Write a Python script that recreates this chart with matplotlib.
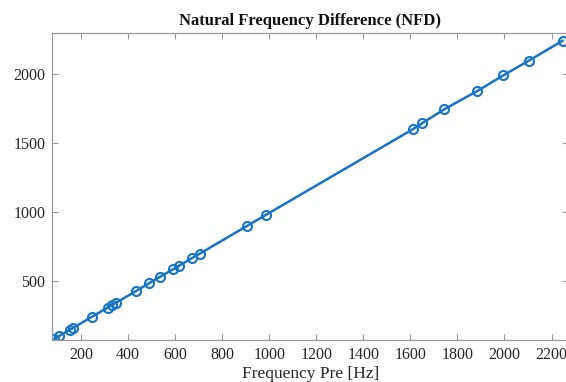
import matplotlib
matplotlib.use("Agg")
import matplotlib.pyplot as plt

freq_pre = [87, 107, 154, 168, 246, 313, 331, 350, 435, 490, 534, 590, 617, 672, 704,
            905, 985, 1611, 1649, 1745, 1885, 1995, 2104, 2247]
freq_post = [82, 101, 148, 161, 240, 306, 325, 343, 428, 484, 528, 583, 610, 666, 697,
             898, 978, 1600, 1642, 1745, 1877, 1990, 2097, 2241]

x_ticks = [200, 400, 600, 800, 1000, 1200, 1400, 1600, 1800, 2000, 2200]
y_ticks = [500, 1000, 1500, 2000]

title = "Natural Frequency Difference (NFD)"
xlabel = "Frequency Pre [Hz]"

plt.rcParams['font.family'] = ['Liberation Serif', 'DejaVu Serif']

fig = plt.figure(figsize=(5.66, 3.82), dpi=100)
ax = fig.add_axes([52.3/566, 42/382, (568-52.3)/566, (340-33)/382])

ax.plot(freq_pre, freq_post, '-o', color='#1874C4', linewidth=1.8,
        markersize=6.5, markerfacecolor='none', markeredgewidth=1.5)

ax.set_xlim(78, 2270)
ax.set_ylim(72, 2297)
ax.set_xticks(x_ticks)
ax.set_yticks(y_ticks)
ax.tick_params(direction='in', top=True, right=True, length=4, width=0.8,
               color='#999999', labelsize=11.5, labelcolor='#262626', pad=5)
for s in ax.spines.values():
    s.set_color('#999999')
    s.set_linewidth(0.9)

ax.set_title(title, fontsize=12, fontweight='bold', color='#111111', pad=6)
ax.set_xlabel(xlabel, fontsize=12.5, color='#262626', labelpad=2)

fig.savefig('out.png', dpi=100)
